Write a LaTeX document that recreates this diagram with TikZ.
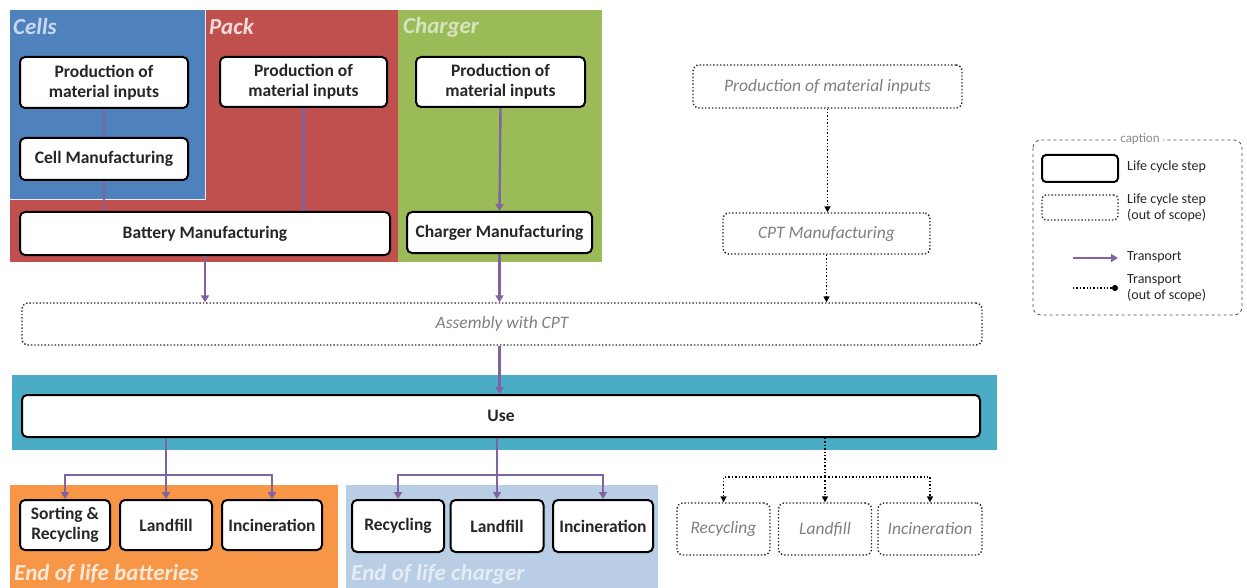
\documentclass[tikz,border=0pt]{standalone}
\usepackage{fontspec}
\setmainfont{Carlito}
\usetikzlibrary{arrows.meta}
\definecolor{cellblue}{HTML}{4F81BD}
\definecolor{packred}{HTML}{C0504D}
\definecolor{chgreen}{HTML}{9BBB59}
\definecolor{useteal}{HTML}{4BACC6}
\definecolor{eolorange}{HTML}{F79646}
\definecolor{eolblue}{HTML}{B9CDE5}
\definecolor{arrowpurple}{HTML}{8064A2}
\definecolor{txtcells}{HTML}{C6D9F1}
\definecolor{txtpack}{HTML}{F2DCDB}
\definecolor{txtcharger}{HTML}{D7E4BD}
\definecolor{txteolb}{HTML}{FDE9D9}
\definecolor{txteolc}{HTML}{E4ECF6}
\tikzset{
  lcs/.style={draw=black, line width=2pt, rounded corners=5pt, fill=white, align=center,
    text=black!85, font=\bfseries\fontsize{17.5}{20}\selectfont, inner sep=0.5pt},
  oos/.style={draw=black!85, dotted, line width=1.4pt, rounded corners=6pt, fill=white, align=center,
    text=black!50, font=\itshape\fontsize{17.5}{20}\selectfont, inner sep=0.5pt},
  transport/.style={draw=arrowpurple, line width=2.4pt, -{Triangle[length=7pt,width=8pt]}},
  tline/.style={draw=arrowpurple, line width=2.4pt},
  otransport/.style={draw=black, dotted, line width=1.4pt, -{Triangle[length=6pt,width=6pt]}},
  sectitle/.style={anchor=west, font=\bfseries\itshape\fontsize{23}{26}\selectfont, inner sep=0pt},
  legtext/.style={anchor=west, align=left, text=black!85, font=\fontsize{14}{16}\selectfont, inner sep=0pt},
}
\begin{document}
\begin{tikzpicture}[x=1pt,y=-1pt]
\useasboundingbox (0,0) rectangle (1247,588);
% background panels
\fill[packred] (10,10) rectangle (398,262);
\fill[cellblue] (10,10) rectangle (205,200);
\draw[white!85!cellblue, line width=1pt] (10,200) -- (205,200) -- (205,10);
\fill[chgreen] (398,10) rectangle (602,262);
\fill[useteal] (12,375) rectangle (997,450);
\fill[eolorange] (10,485) rectangle (338,588);
\fill[eolblue] (346,485) rectangle (658,588);
% section titles
\node[sectitle, text=txtcells] (tcells) at (13,27) {Cells};
\node[sectitle, text=txtpack] (tpack) at (209,27) {Pack};
\node[sectitle, text=txtcharger] (tcharger) at (403,27) {Charger};
\node[sectitle, text=txteolb] (teolb) at (14,574) {End of life batteries};
\node[sectitle, text=txteolc] (teolc) at (351,574) {End of life charger};
% life cycle steps
\node[lcs, minimum width=168, minimum height=51] (cp) at (104,82.5) {Production of\\material inputs};
\node[lcs, minimum width=168, minimum height=42] (cm) at (104,159) {Cell Manufacturing};
\node[lcs, minimum width=167, minimum height=50] (pp) at (303.5,82) {Production of\\material inputs};
\node[lcs, minimum width=370, minimum height=43] (bm) at (205,233.5) {Battery Manufacturing};
\node[lcs, minimum width=169, minimum height=50] (chp) at (500.5,82) {Production of\\material inputs};
\node[lcs, minimum width=185, minimum height=41] (chm) at (499.5,232.5) {Charger Manufacturing};
\node[oos, minimum width=269, minimum height=43] (op) at (827.5,86.5) {Production of material inputs};
\node[oos, minimum width=207, minimum height=41] (ocpt) at (826.5,233.5) {CPT Manufacturing};
\node[oos, minimum width=960, minimum height=42] (asm) at (502,324) {Assembly with CPT};
\node[lcs, minimum width=958, minimum height=42] (use) at (501,416) {Use};
% end of life
\node[lcs, minimum width=90, minimum height=50] (sr) at (65,525) {Sorting \&\\Recycling};
\node[lcs, minimum width=92, minimum height=50] (lf1) at (166,525) {Landfill};
\node[lcs, minimum width=100, minimum height=50] (inc1) at (272,525) {Incineration};
\node[lcs, minimum width=92, minimum height=52] (rc2) at (398,526) {Recycling};
\node[lcs, minimum width=93, minimum height=52] (lf2) at (497,526) {Landfill};
\node[lcs, minimum width=100, minimum height=52] (inc2) at (603,526) {Incineration};
\node[oos, minimum width=93, minimum height=52] (orc) at (723.5,529) {Recycling};
\node[oos, minimum width=93, minimum height=52] (olf) at (825,529) {Landfill};
\node[oos, minimum width=104, minimum height=52] (oinc) at (930,529) {Incineration};
% transports upstream
\draw[tline] (cp.south) -- (cm.north);
\draw[tline] (cm.south) -- (cm.south |- bm.north);
\draw[tline] (pp.south) -- (pp.south |- bm.north);
\draw[transport] (chp.south) -- (chm.north);
\draw[transport] (bm.south) -- (bm.south |- asm.north);
\draw[transport] (chm.south) -- (chm.south |- asm.north);
\draw[otransport] (op.south) -- (op.south |- ocpt.north);
\draw[otransport] (ocpt.south) -- (ocpt.south |- asm.north);
\draw[transport] (asm.south -| chm.south) -- (use.north -| chm.south);
% transports end of life
\coordinate (j1) at (166,475);
\coordinate (j2) at (497,475);
\coordinate (j3) at (825,477);
\draw[tline] (use.south -| j1) -- (j1);
\draw[transport] (j1) -- (lf1.north);
\draw[transport] (j1) -| (sr.north);
\draw[transport] (j1) -| (inc1.north);
\draw[tline] (use.south -| j2) -- (j2);
\draw[transport] (j2) -- (lf2.north);
\draw[transport] (j2) -| (rc2.north);
\draw[transport] (j2) -| (inc2.north);
\draw[otransport, -] (use.south -| j3) -- (j3);
\draw[otransport] (j3) -- (olf.north);
\draw[otransport] (j3) -| (orc.north);
\draw[otransport] (j3) -| (oinc.north);
% caption
\draw[black!70, dashed, line width=0.8pt, rounded corners=8pt] (1033,140) rectangle (1242,315);
\node[fill=white, text=black!45, font=\fontsize{13}{15}\selectfont, inner sep=3pt] (capt) at (1140,139) {caption};
\node[draw=black, line width=2pt, rounded corners=4pt, minimum width=76, minimum height=27] (lg1) at (1080,168.5) {};
\node[legtext] (lt1) at (1127,167) {Life cycle step};
\node[draw=black!85, dotted, line width=1.4pt, rounded corners=4pt, minimum width=76, minimum height=25] (lg2) at (1080,207.5) {};
\node[legtext] (lt2) at (1127,208) {Life cycle step\\(out of scope)};
\coordinate (la1) at (1073,258);
\coordinate (lb1) at (1118,258);
\draw[transport] (la1) -- (lb1);
\node[legtext] (lt3) at (1127,257) {Transport};
\coordinate (la2) at (1073,288);
\coordinate (lb2) at (1118,288);
\draw[otransport, -{Circle[length=6pt]}] (la2) -- (lb2);
\node[legtext] (lt4) at (1127,288) {Transport\\(out of scope)};
\end{tikzpicture}
\end{document}
